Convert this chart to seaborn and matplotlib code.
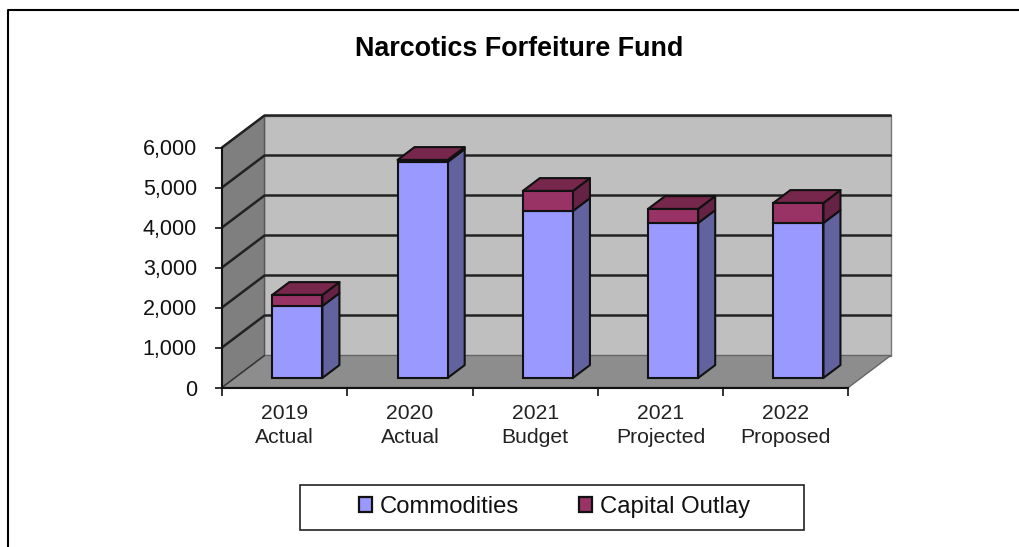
import matplotlib
matplotlib.use("Agg")
import matplotlib.pyplot as plt
from matplotlib.lines import Line2D
from matplotlib.patches import Patch, Polygon, Rectangle
from matplotlib.transforms import Affine2D
import pandas as pd
import seaborn as sns

# Fund figures by budget period
periods = ["2019\nActual", "2020\nActual", "2021\nBudget", "2021\nProjected", "2022\nProposed"]
commodities = [1800, 5400, 4175, 3875, 3875]
capital_outlay = [275, 50, 500, 350, 500]

W, H = 1019, 547
sns.set_theme(style="white")
plt.rcParams["font.family"] = ["Liberation Sans", "DejaVu Sans"]

BLUE, BLUE_SIDE = "#9999FF", "#62629F"
PLUM, PLUM_SIDE, PLUM_TOP = "#993366", "#662244", "#77264C"
WALL, SIDE_WALL, FLOOR = "#BFBFBF", "#7F7F7F", "#8D8D8D"
INK = "#111111"

fig = plt.figure(figsize=(W / 100, H / 100), dpi=100, facecolor="white")
left, right, y0, y6k = 222, 848.3, 387.5, 147.5
ax = fig.add_axes([left / W, 1 - y0 / H, (right - left) / W, (y0 - y6k) / H])

df = pd.DataFrame({"period": periods, "commodities": commodities, "capital": capital_outlay})
totals = df["commodities"] + df["capital"]

BAR_WIDTH = 0.4
sns.barplot(data=df, x="period", y="commodities", color=BLUE, saturation=1,
            width=BAR_WIDTH, edgecolor=INK, linewidth=1.5, ax=ax, zorder=5)
sns.barplot(data=df, x="period", y="capital", bottom=df["commodities"], color=PLUM, saturation=1,
            width=BAR_WIDTH, edgecolor=INK, linewidth=1.5, ax=ax, zorder=5)
ax.set_xlim(-0.5, 4.5)
ax.set_ylim(0, 6000)

# One unit of depth runs from the front edge of the floor to the back wall
DEPTH_X, DEPTH_Y = 42.5 / 125.3, 800
FRONT, BACK = 0.30, 0.70


def project(x, y, depth):
    return x + depth * DEPTH_X, y + depth * DEPTH_Y


def face(points, color, z, edge=INK, lw=1.5):
    ax.add_patch(Polygon([project(*p) for p in points], closed=True, facecolor=color,
                         edgecolor=edge, linewidth=lw, joinstyle="round", clip_on=False, zorder=z))


# Walls and floor
xa, xb = -0.5, 4.5
face([(xa, 0, 1), (xb, 0, 1), (xb, 6000, 1), (xa, 6000, 1)], WALL, 1, edge="#777777", lw=1)
face([(xa, 0, 0), (xa, 0, 1), (xa, 6000, 1), (xa, 6000, 0)], SIDE_WALL, 1, edge="#555555", lw=1)
face([(xa, 0, 0), (xb, 0, 0), (xb, 0, 1), (xa, 0, 1)], FLOOR, 1, edge="#666666", lw=1)

# Gridlines fold from the left axis along the side wall and across the back wall
for level in range(1000, 7000, 1000):
    xs, ys = zip(project(xa, level, 0), project(xa, level, 1), project(xb, level, 1))
    ax.plot(xs, ys, color="#222222", lw=1.8, clip_on=False, zorder=2)
bx, by = zip(project(xa, 0, 0), project(xa, 0, 1))
ax.plot(bx, by, color="#333333", lw=1, clip_on=False, zorder=2)

# Slide the seaborn front faces back onto the floor
shift = Affine2D().translate(FRONT * DEPTH_X, FRONT * DEPTH_Y) + ax.transData
for container in ax.containers:
    for bar in container:
        bar.set_transform(shift)

# Side and top faces of every column
half = BAR_WIDTH / 2
for i, (low, high) in enumerate(zip(commodities, totals)):
    x = i + half
    face([(x, 0, FRONT), (x, 0, BACK), (x, low, BACK), (x, low, FRONT)], BLUE_SIDE, 4)
    face([(x, low, FRONT), (x, low, BACK), (x, high, BACK), (x, high, FRONT)], PLUM_SIDE, 4)
    face([(i - half, high, FRONT), (x, high, FRONT), (x, high, BACK), (i - half, high, BACK)], PLUM_TOP, 4)

# Axes, ticks and labels
sns.despine(ax=ax, top=True, right=True)
for side in ("left", "bottom"):
    ax.spines[side].set_color(INK)
    ax.spines[side].set_linewidth(1.5)
    ax.spines[side].set_zorder(3)
ax.set_xlabel("")
ax.set_ylabel("")
ax.set_yticks(range(0, 7000, 1000))
ax.set_yticklabels([f"{v:,}" for v in range(0, 7000, 1000)])
ax.set_xticks([i - 0.5 for i in range(6)], minor=True)
ax.tick_params(axis="y", which="major", left=True, length=5, width=1.2, color=INK,
               labelsize=15.5, labelcolor=INK, pad=13)
ax.tick_params(axis="x", which="minor", bottom=True, length=6, width=1.2, color=INK)
ax.tick_params(axis="x", which="major", bottom=False, length=0, labelsize=15.2,
               labelcolor="#222222", pad=12)
for label in ax.get_xticklabels():
    label.set_linespacing(1.32)

fig.text(519.5 / W, 1 - 48.5 / H, "Narcotics Forfeiture Fund", ha="center", va="center",
         fontsize=19.4, fontweight="bold", color="black")

# Legend box and entries
fig.add_artist(Rectangle((299.5 / W, 1 - 530 / H), 504 / W, 45 / H, transform=fig.transFigure,
                         facecolor="white", edgecolor="#222222", linewidth=1.2))
handles = [Patch(facecolor=BLUE, edgecolor=INK, linewidth=1.6, label="Commodities"),
           Patch(facecolor=PLUM, edgecolor=INK, linewidth=1.6, label="Capital Outlay")]
fig.legend(handles=handles, loc="center", bbox_to_anchor=(554.5 / W, 1 - 507 / H), ncol=2, frameon=False,
           fontsize=17.2, handlelength=0.55, handleheight=0.55, handletextpad=0.33, columnspacing=2.5,
           labelcolor="#111111")

# Page border along the top and left edges
fig.add_artist(Line2D([7.5 / W, 7.5 / W, 1], [0, 1 - 9.5 / H, 1 - 9.5 / H],
                      transform=fig.transFigure, color="black", lw=1.5))

fig.savefig("out.png", dpi=100)
